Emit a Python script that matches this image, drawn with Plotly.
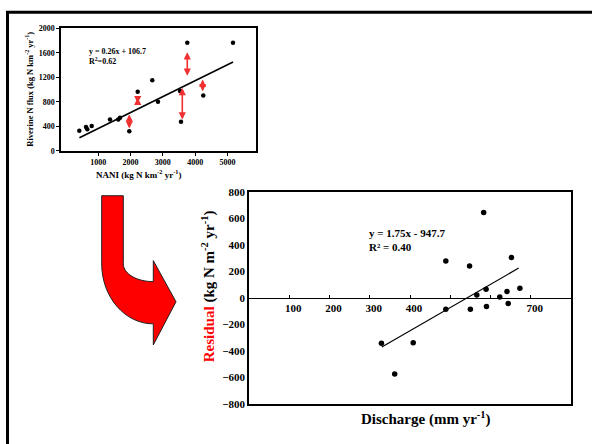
import plotly.graph_objects as go

W, H = 592, 444
FONT = "Liberation Serif, Times New Roman, serif"
RED = "#ff0000"

# ---- NANI vs riverine N flux (upper panel) ----
nani = [416, 623, 663, 799, 1365, 1622, 1674, 1962, 2222, 2673, 2849, 3530, 3560, 3755, 4250, 5168]
n_flux = [329, 392, 354, 408, 513, 513, 540, 322, 968, 1154, 805, 979, 476, 1766, 905, 1766]
fit1_slope, fit1_icpt = 0.26, 106.7
fit1_x = [420, 5170]
nani_ticks = [1000, 2000, 3000, 4000, 5000]
flux_ticks = [0, 400, 800, 1200, 1600, 2000]

# residual arrows (x, upper end, lower end)
res_arrow_x = [1962, 2222, 3601, 3755, 4231]
res_arrow_top = [621, 893, 1052, 1635, 1190]
res_arrow_bottom = [366, 778, 513, 1227, 973]

# ---- Discharge vs residual (lower panel) ----
discharge = [329, 362, 408, 489, 489, 548, 550, 566, 583, 589, 590, 623, 641, 644, 652, 673]
residual = [-343, -574, -338, 279, -86, 240, -86, 22, 644, 66, -64, 7, 49, -42, 304, 73]
fit2_slope, fit2_icpt = 1.75, -947.7
fit2_x = [330, 670]
discharge_ticks = [100, 200, 300, 400, 500, 600, 700]
discharge_labels = ["100", "200", "300", "400", "", "", "700"]
residual_ticks = list(range(-800, 801, 200))


def px(x, y):
    """pixel position -> paper fraction"""
    return x / W, 1 - y / H


def pstr(x, y):
    a, b = px(x, y)
    return f"{a:.5f},{b:.5f}"


fig = go.Figure()

# upper panel
fig.add_trace(go.Scatter(x=nani, y=n_flux, mode="markers", xaxis="x", yaxis="y",
                         marker=dict(color="black", size=4.5), showlegend=False))
fig.add_trace(go.Scatter(x=fit1_x, y=[fit1_slope * v + fit1_icpt for v in fit1_x],
                         mode="lines", xaxis="x", yaxis="y",
                         line=dict(color="black", width=1.6), showlegend=False))

# lower panel
fig.add_trace(go.Scatter(x=discharge, y=residual, mode="markers", xaxis="x2", yaxis="y2",
                         marker=dict(color="black", size=5.5), showlegend=False))
fig.add_trace(go.Scatter(x=fit2_x, y=[fit2_slope * v + fit2_icpt for v in fit2_x],
                         mode="lines", xaxis="x3", yaxis="y2",
                         line=dict(color="black", width=1.2), showlegend=False))

top_dom_x = [61 / W, 256 / W]
top_dom_y = [1 - 149 / H, 1 - 23 / H]
bot_dom_x = [249 / W, 571 / W]
bot_dom_y = [1 - 409 / H, 1 - 191 / H]
res_range = [-800, 800]
zero_pos = bot_dom_y[0] + (0 - res_range[0]) / (res_range[1] - res_range[0]) * (bot_dom_y[1] - bot_dom_y[0])

tick_small = dict(family=FONT, size=8, color="black", weight="bold")
tick_big = dict(family=FONT, size=11, color="black", weight="bold")

fig.update_layout(
    width=W, height=H,
    margin=dict(l=0, r=0, t=0, b=0),
    paper_bgcolor="white", plot_bgcolor="white",
    font=dict(family=FONT, color="black", weight="bold"),
    xaxis=dict(domain=top_dom_x, range=[-150, 5880], anchor="y",
               tickvals=nani_ticks, ticks="outside", ticklen=3, tickwidth=1, tickcolor="black",
               tickfont=tick_small, showline=True, mirror=True, linecolor="black", linewidth=1.5,
               showgrid=False, zeroline=False),
    yaxis=dict(domain=top_dom_y, range=[0, 2000], anchor="x",
               tickvals=flux_ticks, ticks="outside", ticklen=3, tickwidth=1, tickcolor="black",
               tickfont=tick_small, showline=True, mirror=True, linecolor="black", linewidth=1.5,
               showgrid=False, zeroline=False),
    xaxis2=dict(domain=bot_dom_x, range=[0, 800], anchor="y2",
                showticklabels=False, ticks="", showline=True, mirror=True,
                linecolor="black", linewidth=1.5, showgrid=False, zeroline=False),
    yaxis2=dict(domain=bot_dom_y, range=res_range, anchor="x2",
                tickvals=residual_ticks, ticks="", tickfont=tick_big,
                showline=True, mirror=True, linecolor="black", linewidth=1.5,
                showgrid=False, zeroline=False),
    # horizontal axis drawn along the zero residual line
    xaxis3=dict(domain=bot_dom_x, overlaying="x2", anchor="free", position=zero_pos, range=[0, 800],
                tickvals=discharge_ticks, ticktext=discharge_labels,
                ticks="inside", ticklen=3, tickwidth=1, tickcolor="black",
                tickfont=tick_big, ticklabelshift=4,
                showline=True, linecolor="black", linewidth=1.3,
                showgrid=False, zeroline=False),
)

# residual arrows in the upper panel
for xa, yt, yb in zip(res_arrow_x, res_arrow_top, res_arrow_bottom):
    fig.add_annotation(x=xa, y=yb, ax=xa, ay=yt, xref="x", yref="y", axref="x", ayref="y",
                       text="", showarrow=True, arrowhead=2, startarrowhead=2,
                       arrowside="end+start", arrowsize=0.9, startarrowsize=0.9,
                       arrowwidth=1.6, arrowcolor="#f03030", standoff=0, startstandoff=0)

# equations
ex, ey = px(87, 52)
fig.add_annotation(x=ex, y=ey, xref="paper", yref="paper", xanchor="left", yanchor="middle",
                   align="left", showarrow=False,
                   text="y = 0.26x + 106.7<br>R<sup>2</sup>=0.62",
                   font=dict(family=FONT, size=8, color="black", weight="bold"))
ex, ey = px(367, 241)
fig.add_annotation(x=ex, y=ey, xref="paper", yref="paper", xanchor="left", yanchor="middle",
                   align="left", showarrow=False,
                   text="y = 1.75x - 947.7<br>R² = 0.40",
                   font=dict(family=FONT, size=11, color="black", weight="bold"))

# axis titles
tx, ty = px(139, 173)
fig.add_annotation(x=tx, y=ty, xref="paper", yref="paper", showarrow=False,
                   xanchor="center", yanchor="middle",
                   text="NANI (kg N km<sup>-2</sup> yr<sup>-1</sup>)",
                   font=dict(family=FONT, size=9, color="black", weight="bold"))
tx, ty = px(30, 86)
fig.add_annotation(x=tx, y=ty, xref="paper", yref="paper", showarrow=False, textangle=-90,
                   xanchor="center", yanchor="middle",
                   text="Riverine N flux (kg N km<sup>-2</sup> yr<sup>-1</sup>)",
                   font=dict(family=FONT, size=8.5, color="black", weight="bold"))
tx, ty = px(426, 424)
fig.add_annotation(x=tx, y=ty, xref="paper", yref="paper", showarrow=False,
                   xanchor="center", yanchor="middle",
                   text="Discharge (mm yr<sup>-1</sup>)",
                   font=dict(family=FONT, size=15, color="black", weight="bold"))
tx, ty = px(208, 288)
fig.add_annotation(x=tx, y=ty, xref="paper", yref="paper", showarrow=False, textangle=-90,
                   xanchor="center", yanchor="middle",
                   text=f"<span style='color:{RED}'>Residual</span> (kg N m<sup>-2</sup> yr<sup>-1</sup>)",
                   font=dict(family=FONT, size=15, color="black", weight="bold"))

# outer frame
x0, y0 = px(7.5, 6.5)
fig.add_shape(type="rect", xref="paper", yref="paper", x0=x0, y0=-0.2, x1=1.2, y1=y0,
              line=dict(color="black", width=3), fillcolor="rgba(0,0,0,0)", layer="above")

# bent arrow leading from the upper panel to the lower one
k = 0.552
cy = 265
path = (
    f"M {pstr(101.7, 195)} L {pstr(123.3, 195)} L {pstr(123.3, cy)} "
    f"C {pstr(123.3, cy + k * 18.3)} {pstr(153.3 - k * 30, 283.3)} {pstr(153.3, 283.3)} "
    f"L {pstr(153.3, 261.7)} L {pstr(176, 304)} L {pstr(153.3, 348.3)} L {pstr(153.3, 326.7)} "
    f"C {pstr(153.3 - k * 51.6, 326.7)} {pstr(101.7, cy + k * 61.7)} {pstr(101.7, cy)} Z"
)
fig.add_shape(type="path", xref="paper", yref="paper", path=path,
              fillcolor=RED, line=dict(color="#202020", width=1))

fig.write_html("out.html")
